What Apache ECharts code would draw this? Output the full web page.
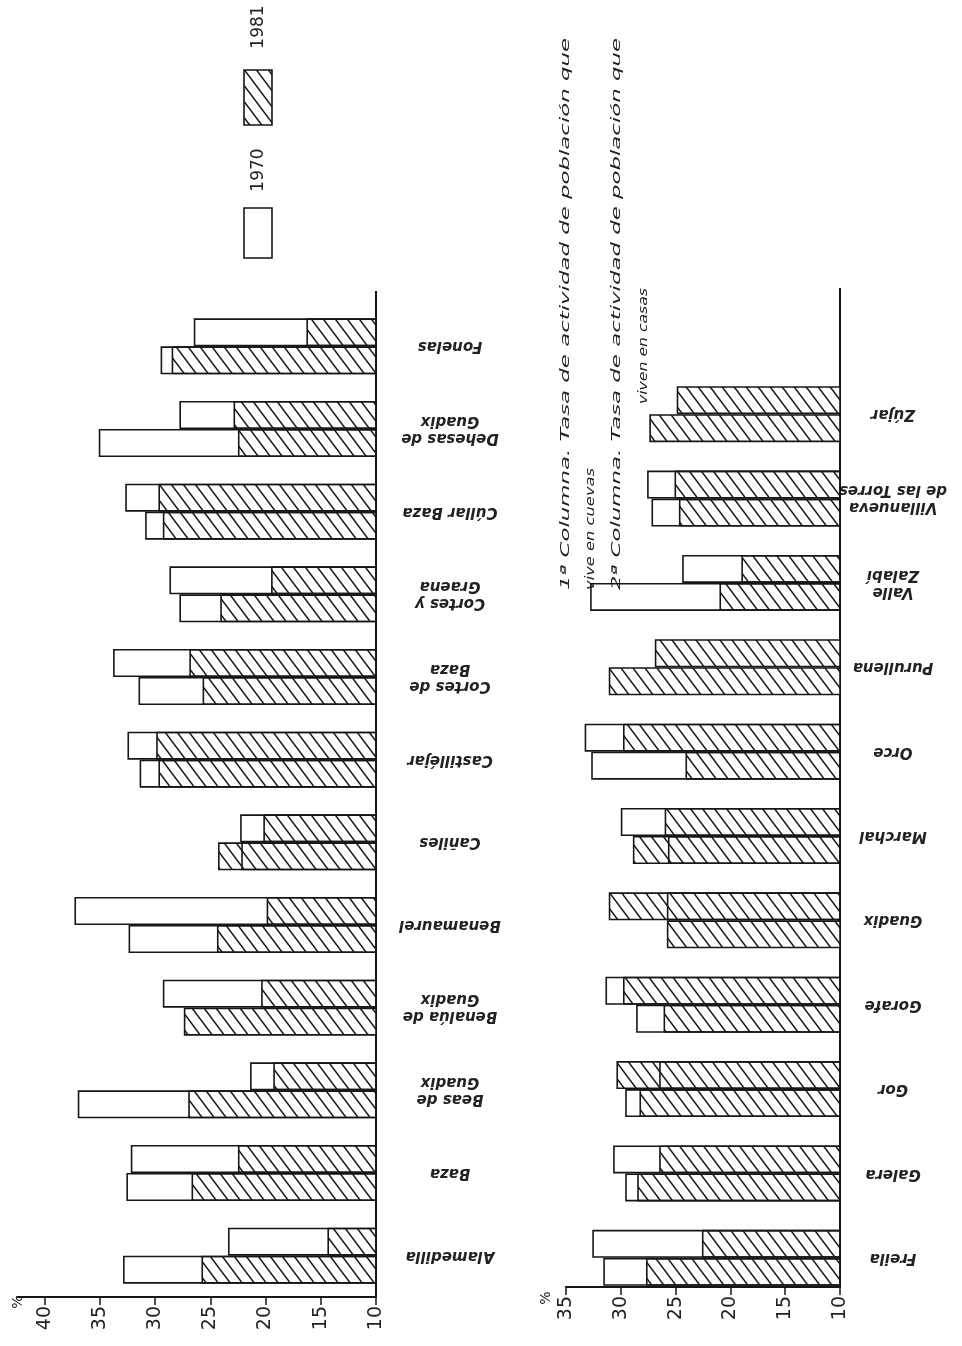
<!DOCTYPE html>
<html>
<head>
<meta charset="utf-8">
<script src="https://cdn.jsdelivr.net/npm/echarts@6/dist/echarts.min.js"></script>
<style>
html, body { margin: 0; padding: 0; background: #fff; }
#chart { width: 962px; height: 1346px; }
</style>
</head>
<body>
<div id="chart"></div>
<script>
// panel 1 (left), listed bottom to top
var pueblosA = ['Alamedilla', 'Baza', 'Beas de\nGuadix', 'Benalúa de\nGuadix', 'Benamaurel', 'Cañiles',
  'Castilléjar', 'Cortes de\nBaza', 'Cortes y\nGraena', 'Cúllar Baza', 'Dehesas de\nGuadix', 'Fonelas']
// 1a columna: poblacion que vive en cuevas
var cuevas1970A = [32.9, 32.6, 37.0, null, 32.4, 22.2, 31.4, 31.5, 27.8, 30.9, 35.1, 29.5]
var cuevas1981A = [25.8, 26.7, 27.0, 27.4, 24.4, 24.3, 29.7, 25.7, 24.1, 29.3, 22.5, 28.5]
// 2a columna: poblacion que vive en casas
var casas1970A = [23.4, 32.2, 21.4, 29.3, 37.3, 22.3, 32.5, 33.8, 28.7, 32.7, 27.8, 26.5]
var casas1981A = [14.4, 22.5, 19.3, 20.4, 19.9, 20.2, 29.9, 26.9, 19.5, 29.7, 22.9, 16.3]

// panel 2 (right)
var pueblosB = ['Freila', 'Galera', 'Gor', 'Gorafe', 'Guadix', 'Marchal', 'Orce', 'Purullena',
  'Valle\nZalabí', 'Villanueva\nde las Torres', 'Zújar']
var cuevas1970B = [31.6, 29.6, 29.6, 28.6, null, 25.7, 32.7, null, 32.8, 27.2, null]
var cuevas1981B = [27.7, 28.5, 28.3, 26.1, 25.8, 28.9, 24.1, 31.1, 21.0, 24.7, 27.4]
var casas1970B = [32.6, 30.7, 26.5, 31.4, 25.8, 30.0, 33.3, null, 24.4, 27.6, null]
var casas1981B = [22.6, 26.5, 30.4, 29.8, 31.1, 26.0, 29.8, 26.9, 19.0, 25.1, 24.9]

var ticksA = [10, 15, 20, 25, 30, 35, 40]
var ticksB = [10, 15, 20, 25, 30, 35]

var notas = [
  '1ª Columna. Tasa de actividad de población que',
  'vive en cuevas',
  '2ª Columna. Tasa de actividad de población que',
  'viven en casas'
]

var INK = '#161616'

// diagonal hatch used for 1981
function hatchPattern () {
  var c = document.createElement('canvas')
  c.width = 12
  c.height = 16
  var ctx = c.getContext('2d')
  ctx.fillStyle = '#fff'
  ctx.fillRect(0, 0, 12, 16)
  ctx.strokeStyle = INK
  ctx.lineWidth = 1.5
  ctx.beginPath()
  for (var k = -12; k <= 12; k += 12) {
    ctx.moveTo(k - 3, -4)
    ctx.lineTo(k + 15, 20)
  }
  ctx.stroke()
  return { image: c, repeat: 'repeat' }
}
var hatch = hatchPattern()

function valueAxis (grid, max, ticks, offset) {
  return {
    gridIndex: grid,
    type: 'value',
    inverse: true,
    min: 10,
    max: max,
    interval: 5,
    offset: offset,
    axisLine: { show: true, lineStyle: { color: INK, width: 2 } },
    axisTick: { show: true, length: 8, customValues: ticks, lineStyle: { color: INK, width: 1.5 } },
    axisLabel: {
      customValues: ticks, rotate: 90, margin: 9, color: '#222',
      fontSize: 19, fontFamily: 'DejaVu Sans'
    },
    splitLine: { show: false }
  }
}

function catAxis (grid, data, margin, show) {
  return {
    gridIndex: grid,
    type: 'category',
    data: data,
    position: 'right',
    show: show,
    axisLine: { show: false },
    axisTick: { show: false },
    axisLabel: {
      rotate: 180, align: 'center', verticalAlign: 'middle', margin: margin,
      color: '#222', fontSize: 15, fontStyle: 'italic', fontWeight: 'bold',
      fontFamily: 'DejaVu Sans', lineHeight: 17
    }
  }
}

function hatched (xi, yi, data) {
  return {
    type: 'bar', xAxisIndex: xi, yAxisIndex: yi, data: data,
    barWidth: 28, barGap: '0%', z: 2,
    itemStyle: { color: hatch, borderColor: INK, borderWidth: 1.6 }
  }
}
function outline (xi, yi, data) {
  return {
    type: 'bar', xAxisIndex: xi, yAxisIndex: yi, data: data,
    barWidth: 28, barGap: '0%', z: 3,
    itemStyle: { color: 'rgba(255,255,255,0)', borderColor: INK, borderWidth: 1.6 }
  }
}

var chart = echarts.init(document.getElementById('chart'))
// within a band the first series sits on top, so casas goes first
chart.setOption({
  animation: false,
  backgroundColor: '#fff',
  grid: [
    { left: 17, right: 586, top: 305, bottom: 49 },
    { left: 566, right: 122, top: 372, bottom: 46 }
  ],
  xAxis: [valueAxis(0, 42.5, ticksA, 0), valueAxis(1, 35, ticksB, -13)],
  yAxis: [
    catAxis(0, pueblosA, 74, true), catAxis(0, pueblosA, 74, false),
    catAxis(1, pueblosB, 53, true), catAxis(1, pueblosB, 53, false)
  ],
  series: [
    hatched(0, 0, casas1981A), hatched(0, 0, cuevas1981A),
    outline(0, 1, casas1970A), outline(0, 1, cuevas1970A),
    hatched(1, 2, casas1981B), hatched(1, 2, cuevas1981B),
    outline(1, 3, casas1970B), outline(1, 3, cuevas1970B)
  ]
})

// baselines (value 10) run a bit above the first bars
var xA = chart.convertToPixel({ xAxisIndex: 0 }, 10)
var xB = chart.convertToPixel({ xAxisIndex: 1 }, 10)

var notaFont = 'italic 12px "DejaVu Sans"'
var meas = document.createElement('canvas').getContext('2d')
meas.font = notaFont
// x, start y, length along the text
var notaPos = [[566, 590, 552], [591, 590, 122], [617, 590, 552], [644, 404, 116]]

var graphics = [
  { type: 'line', shape: { x1: xA, y1: 291, x2: xA, y2: 1297 }, style: { stroke: INK, lineWidth: 2 } },
  { type: 'line', shape: { x1: xB, y1: 288, x2: xB, y2: 1287 }, style: { stroke: INK, lineWidth: 2 } },
  { type: 'text', x: 18, y: 1302, rotation: Math.PI / 2,
    style: { text: '%', fill: '#222', font: '14px "DejaVu Sans"', textAlign: 'center', textVerticalAlign: 'middle' } },
  { type: 'text', x: 546, y: 1298, rotation: Math.PI / 2,
    style: { text: '%', fill: '#222', font: '14px "DejaVu Sans"', textAlign: 'center', textVerticalAlign: 'middle' } },
  // legend
  { type: 'rect', shape: { x: 244, y: 208, width: 28, height: 50 }, style: { fill: '#fff', stroke: INK, lineWidth: 1.6 } },
  { type: 'text', x: 259, y: 170, rotation: Math.PI / 2,
    style: { text: '1970', fill: '#222', font: '17px "DejaVu Sans"', textAlign: 'center', textVerticalAlign: 'middle' } },
  { type: 'rect', shape: { x: 244, y: 70, width: 28, height: 55 }, style: { fill: hatch, stroke: INK, lineWidth: 1.6 } },
  { type: 'text', x: 259, y: 27, rotation: Math.PI / 2,
    style: { text: '1981', fill: '#222', font: '17px "DejaVu Sans"', textAlign: 'center', textVerticalAlign: 'middle' } }
]
notas.forEach(function (t, i) {
  var p = notaPos[i]
  graphics.push({
    type: 'text', x: p[0], y: p[1], rotation: Math.PI / 2, scaleX: p[2] / meas.measureText(t).width,
    style: { text: t, fill: '#222', font: notaFont, textAlign: 'left', textVerticalAlign: 'middle' }
  })
})
chart.setOption({ graphic: graphics })
</script>
</body>
</html>
